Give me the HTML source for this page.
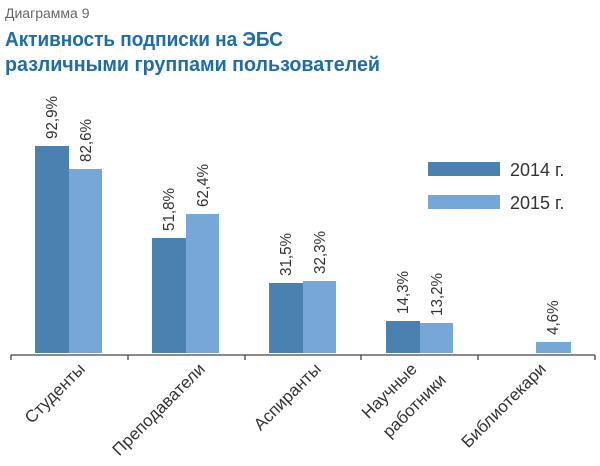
<!DOCTYPE html>
<html><head><meta charset="utf-8"><style>
body{margin:0;background:#fff;width:600px;height:466px;overflow:hidden}
svg{display:block}
text{font-family:"Liberation Sans","DejaVu Sans",sans-serif}
</style></head><body>
<svg width="600" height="466" viewBox="0 0 600 466">
<text x="5" y="18" font-size="14" fill="#666">Диаграмма 9</text>
<text x="5" y="46" font-size="20" font-weight="bold" fill="#1d6cae" textLength="278" lengthAdjust="spacingAndGlyphs">Активность подписки на ЭБС</text>
<text x="5" y="71" font-size="20" font-weight="bold" fill="#1d6cae" textLength="375" lengthAdjust="spacingAndGlyphs">различными группами пользователей</text>
<g fill="#4b81b1">
<rect x="35" y="146" width="34" height="207"/>
<rect x="152" y="238" width="34" height="115"/>
<rect x="269" y="283" width="34" height="70"/>
<rect x="386" y="321" width="34" height="32"/>
</g>
<g fill="#77a7d8">
<rect x="69" y="169" width="33" height="184"/>
<rect x="186" y="214" width="33" height="139"/>
<rect x="303" y="281" width="33" height="72"/>
<rect x="420" y="323" width="33" height="30"/>
<rect x="536" y="342" width="35" height="11"/>
</g>
<rect x="428" y="162" width="72" height="14" fill="#4b81b1"/>
<rect x="428" y="195" width="72" height="14" fill="#77a7d8"/>
<text x="510" y="176" font-size="18" fill="#333">2014 г.</text>
<text x="510" y="209" font-size="18" fill="#333">2015 г.</text>
<path d="M11 355H595M11 355v5M128 355v5M245 355v5M361 355v5M478 355v5M595 355v5" stroke="#444" stroke-width="1.3" fill="none"/>
<g font-size="16" fill="#333">
<text transform="translate(57,139) rotate(-90) scale(0.95,1)">92,9%</text>
<text transform="translate(91,162) rotate(-90) scale(0.95,1)">82,6%</text>
<text transform="translate(174,231) rotate(-90) scale(0.95,1)">51,8%</text>
<text transform="translate(208,207) rotate(-90) scale(0.95,1)">62,4%</text>
<text transform="translate(291,276) rotate(-90) scale(0.95,1)">31,5%</text>
<text transform="translate(325,274) rotate(-90) scale(0.95,1)">32,3%</text>
<text transform="translate(408,314) rotate(-90) scale(0.95,1)">14,3%</text>
<text transform="translate(442,316) rotate(-90) scale(0.95,1)">13,2%</text>
<text transform="translate(558,335) rotate(-90) scale(0.95,1)">4,6%</text>
</g>
<g font-size="17" fill="#333" text-anchor="end">
<text transform="translate(86,370) rotate(-45)">Студенты</text>
<text transform="translate(206,370) rotate(-45)">Преподаватели</text>
<text transform="translate(322,370) rotate(-45)">Аспиранты</text>
<text transform="translate(418,370) rotate(-45)">Научные</text>
<text transform="translate(447,381) rotate(-45)">работники</text>
<text transform="translate(547,370) rotate(-45)">Библиотекари</text>
</g>
</svg>
</body></html>
